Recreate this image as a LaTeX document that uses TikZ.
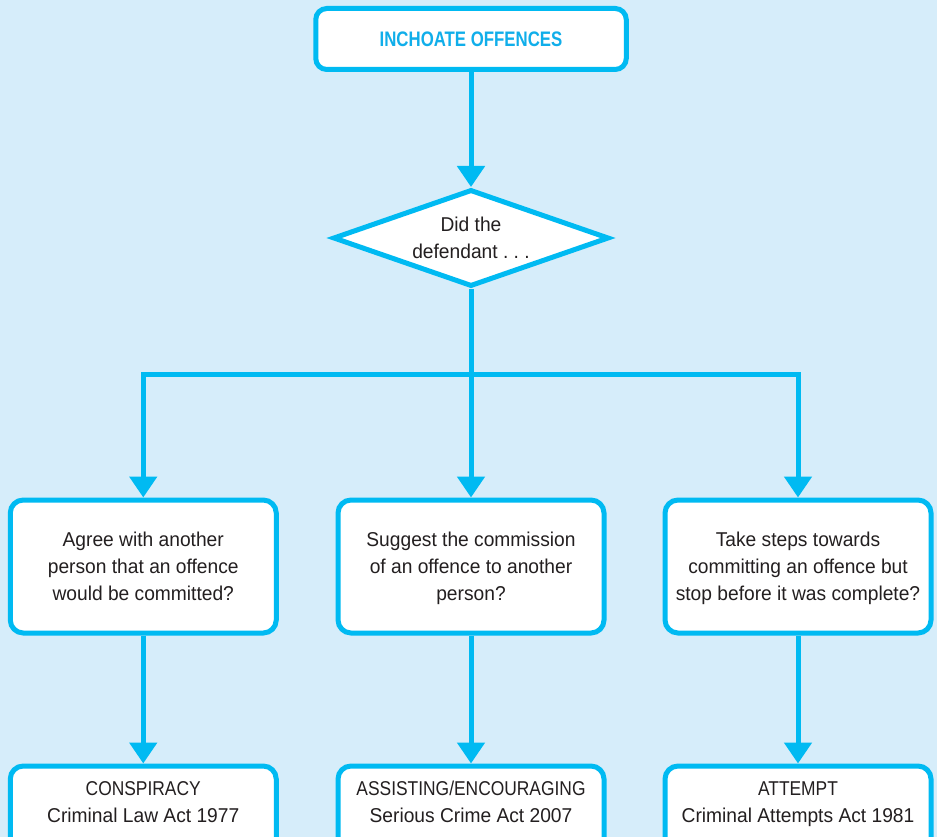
\documentclass[tikz,border=0pt]{standalone}
\usepackage{fontspec}
\setmainfont{Liberation Sans}[FakeStretch=0.96]
\newfontfamily\headfont{Liberation Sans}[FakeStretch=0.8]
\newfontfamily\capsfont{Liberation Sans}[FakeStretch=0.87]
\usetikzlibrary{shapes.geometric,arrows.meta}
\definecolor{bgblue}{HTML}{D6EDFA}
\definecolor{linecyan}{HTML}{00BAF2}
\definecolor{headcyan}{HTML}{10AEEA}
\definecolor{bodytext}{HTML}{231F20}
% struts that balance a text block about the middle of its capitals
\newcommand\capstrutA{\rule{0pt}{21.2pt}}
\newcommand\capstrutB{\rule[-6.8pt]{0pt}{6.8pt}}

\begin{document}
\begin{tikzpicture}[x=1pt,y=-1pt,
  every node/.style={text=bodytext, font=\fontsize{20}{27}\selectfont},
  box/.style={draw=linecyan, line width=5pt, fill=white, rounded corners=13pt,
    minimum width=266pt, minimum height=133pt, inner sep=0pt, align=center},
  topbox/.style={draw=linecyan, line width=5pt, fill=white, rounded corners=11pt,
    minimum width=310.5pt, minimum height=61pt, inner sep=0pt,
    text=headcyan, font=\headfont\bfseries\fontsize{21}{25}\selectfont},
  question/.style={diamond, aspect=2.85, draw=linecyan, line width=5pt, fill=white,
    minimum width=276pt, minimum height=97pt, inner sep=0pt, align=center},
  txt/.style={inner sep=0pt, align=center},
  flow/.style={draw=linecyan, line width=5pt,
    -{Triangle[width=27pt,length=21pt]}}
]
% background and frame
\fill[bgblue] (0,0) rectangle (937,837);
\path[use as bounding box] (0,0) rectangle (937,837);
\clip (0,0) rectangle (937,837);

% heading and question
\node[topbox] (top) at (471,39) {INCHOATE OFFENCES};
\node[question] (q) at (471,238) {\capstrutA Did the\\defendant~.~.~.\capstrutB};

% the three questions
\node[box] (a1) at (143.25,566.5) {\capstrutA Agree with another\\person that an offence\\would be committed?\capstrutB};
\node[box] (a2) at (471,566.5) {\capstrutA Suggest the commission\\of an offence to another\\person?\capstrutB};
\node[box] (a3) at (798,566.5) {\capstrutA Take steps towards\\committing an offence but\\stop before it was complete?\capstrutB};

% the three offences
\node[box, minimum height=120pt] (c1) at (143.25,826) {};
\node[box, minimum height=120pt] (c2) at (471,826) {};
\node[box, minimum height=120pt] (c3) at (798,826) {};
\node[txt] (c1t) at (143.25,801.5) {\capstrutA{\capsfont CONSPIRACY}\\Criminal Law Act 1977\capstrutB};
\node[txt] (c2t) at (471,801.5) {\capstrutA{\capsfont ASSISTING/ENCOURAGING}\\Serious Crime Act 2007\capstrutB};
\node[txt] (c3t) at (798,801.5) {\capstrutA{\capsfont ATTEMPT}\\Criminal Attempts Act 1981\capstrutB};

% connectors
\coordinate (split) at (471,374);
\draw[flow] (top.south) -- (q.north);
\draw[flow] (q.south) -- (a2.north);
\draw[flow] (split) -| (a1.north);
\draw[flow] (split) -| (a3.north);
\draw[flow] (a1.south) -- (c1.north);
\draw[flow] (a2.south) -- (c2.north);
\draw[flow] (a3.south) -- (c3.north);
\end{tikzpicture}
\end{document}
